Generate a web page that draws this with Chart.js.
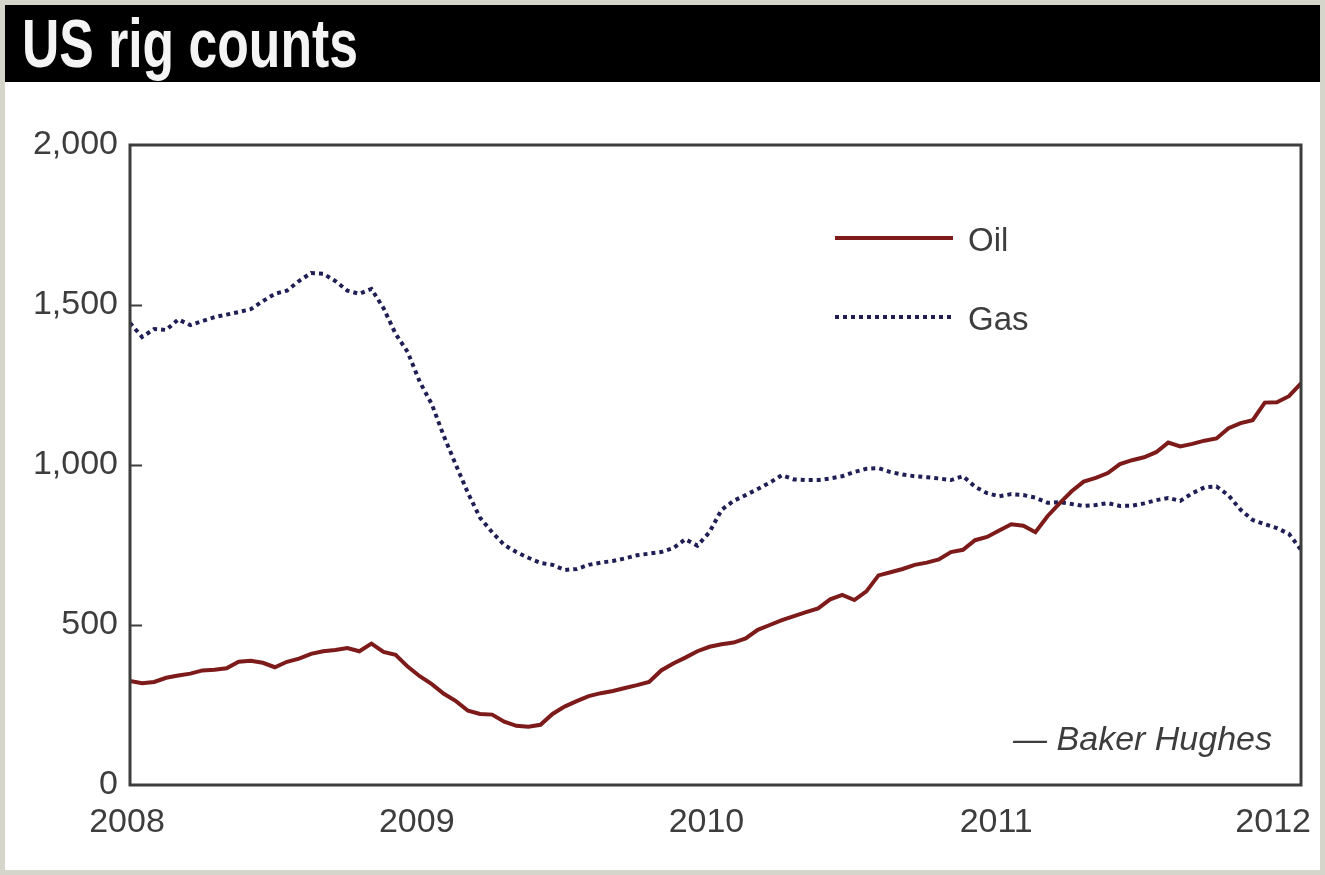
<!DOCTYPE html>
<html>
<head>
<meta charset="utf-8">
<title>US rig counts</title>
<script src="https://cdn.jsdelivr.net/npm/chart.js@4.4.1/dist/chart.umd.min.js"></script>
<style>
  html, body { margin: 0; padding: 0; background: #d5d5cc; }
  #frame { position: absolute; left: 5px; top: 5px; width: 1315px; height: 865px; background: #fff; }
  #bar { position: absolute; left: 0; top: 0; width: 1315px; height: 77px; background: #000; overflow: hidden; }
  #title {
    position: absolute; left: 17px; top: 0; white-space: nowrap;
    color: #f4f4f4; font-family: "Liberation Sans Narrow", "Arial Narrow", "Liberation Sans", sans-serif;
    font-weight: bold; font-size: 68px; line-height: 77px;
    transform: scaleX(0.76); transform-origin: 0 50%;
  }
  #wrap { position: absolute; left: 0; top: 77px; width: 1315px; height: 788px; }
</style>
</head>
<body>
<div id="frame">
  <div id="bar"><div id="title">US rig counts</div></div>
  <div id="wrap"><canvas id="rigChart"></canvas></div>
</div>
<script>
// half-monthly readings, Jan 2008 - Jan 2012
const dates = [
  '2008-01-01','2008-01-16','2008-02-01','2008-02-16','2008-03-01','2008-03-16','2008-04-01','2008-04-16',
  '2008-05-01','2008-05-16','2008-06-01','2008-06-16','2008-07-01','2008-07-16','2008-08-01','2008-08-16',
  '2008-09-01','2008-09-16','2008-10-01','2008-10-16','2008-11-01','2008-11-16','2008-12-01','2008-12-16',
  '2009-01-01','2009-01-16','2009-02-01','2009-02-16','2009-03-01','2009-03-16','2009-04-01','2009-04-16',
  '2009-05-01','2009-05-16','2009-06-01','2009-06-16','2009-07-01','2009-07-16','2009-08-01','2009-08-16',
  '2009-09-01','2009-09-16','2009-10-01','2009-10-16','2009-11-01','2009-11-16','2009-12-01','2009-12-16',
  '2010-01-01','2010-01-16','2010-02-01','2010-02-16','2010-03-01','2010-03-16','2010-04-01','2010-04-16',
  '2010-05-01','2010-05-16','2010-06-01','2010-06-16','2010-07-01','2010-07-16','2010-08-01','2010-08-16',
  '2010-09-01','2010-09-16','2010-10-01','2010-10-16','2010-11-01','2010-11-16','2010-12-01','2010-12-16',
  '2011-01-01','2011-01-16','2011-02-01','2011-02-16','2011-03-01','2011-03-16','2011-04-01','2011-04-16',
  '2011-05-01','2011-05-16','2011-06-01','2011-06-16','2011-07-01','2011-07-16','2011-08-01','2011-08-16',
  '2011-09-01','2011-09-16','2011-10-01','2011-10-16','2011-11-01','2011-11-16','2011-12-01','2011-12-16',
  '2012-01-01','2012-01-16'
];

const oilRigs = [
  325,318,322,335,342,348,358,360,365,385,
  388,382,368,385,395,410,418,422,428,418,
  442,416,407,370,340,315,285,262,232,222,
  220,198,185,182,188,222,245,262,278,287,
  294,303,312,322,358,380,398,418,432,440,
  445,458,485,500,515,528,540,552,580,594,
  578,605,655,665,675,688,695,705,728,735,
  765,775,795,815,810,790,840,880,918,948,
  960,975,1003,1015,1024,1040,1070,1058,1066,1076,
  1083,1115,1131,1140,1195,1196,1215,1255
];

const gasRigs = [
  1444,1400,1425,1422,1455,1437,1450,1462,1470,1478,
  1487,1512,1535,1545,1575,1600,1598,1575,1545,1535,
  1550,1490,1410,1353,1260,1190,1090,1000,912,835,
  790,750,728,710,694,688,672,675,688,695,
  700,708,718,723,728,740,768,748,790,860,
  888,906,925,945,968,955,953,953,958,965,
  978,988,990,978,970,965,962,958,953,965,
  932,912,902,909,906,898,882,884,878,872,
  875,881,872,873,880,890,897,888,912,930,
  933,905,860,828,815,803,785,735
];

const yearTicks = [2008, 2009, 2010, 2011, 2012];
const yTicks = [0, 500, 1000, 1500, 2000];
const seriesNames = ['Oil', 'Gas'];
const sourceNote = '\u2014 Baker Hughes';

const OIL_COLOR = '#7d1a1a';
const GAS_COLOR = '#1f1f55';
const INK = '#3d3d3d';
const FONT = '"Liberation Sans", Arial, sans-serif';

function toYear(d) {
  const [y, m, day] = d.split('-').map(Number);
  return y + (m - 1) / 12 + (day - 1) / 360;
}

const oilPoints = dates.map((d, i) => ({ x: toYear(d), y: oilRigs[i] }));
const gasPoints = dates.map((d, i) => ({ x: toYear(d), y: gasRigs[i] }));

// box, inner ticks, year labels, key and source line
const decorations = {
  id: 'decorations',
  afterDraw(chart) {
    const { ctx, chartArea: a, scales: { x, y } } = chart;
    ctx.save();

    ctx.strokeStyle = INK;
    ctx.lineWidth = 3;
    ctx.strokeRect(a.left, a.top, a.right - a.left, a.bottom - a.top);

    ctx.lineWidth = 2;
    yTicks.slice(1, -1).forEach(v => {
      const py = Math.round(y.getPixelForValue(v)) + 0.5;
      ctx.beginPath();
      ctx.moveTo(a.left, py);
      ctx.lineTo(a.left + 12, py);
      ctx.stroke();
    });

    ctx.fillStyle = INK;
    ctx.font = '34px ' + FONT;
    ctx.textBaseline = 'alphabetic';
    ctx.textAlign = 'center';
    yearTicks.forEach(yr => {
      const label = String(yr);
      const w = ctx.measureText(label).width;
      let px = x.getPixelForValue(yr) - 3;
      if (px + w / 2 > a.right + 10) px = a.right + 10 - w / 2;
      ctx.fillText(label, px, a.bottom + 47);
    });

    // key
    const keyX = a.left + 705;
    const rows = [a.top + 93, a.top + 172];
    chart.data.datasets.forEach((ds, i) => {
      ctx.strokeStyle = ds.borderColor;
      ctx.lineWidth = ds.borderWidth;
      ctx.setLineDash(ds.borderDash || []);
      ctx.lineCap = 'butt';
      ctx.beginPath();
      ctx.moveTo(keyX, rows[i]);
      ctx.lineTo(keyX + 118, rows[i]);
      ctx.stroke();
      ctx.setLineDash([]);
      ctx.fillStyle = INK;
      ctx.font = '33px ' + FONT;
      ctx.textAlign = 'left';
      ctx.fillText(ds.label, keyX + 133, rows[i] + 13);
    });

    ctx.font = 'italic 34px ' + FONT;
    ctx.textAlign = 'right';
    ctx.fillText(sourceNote, a.right - 29, a.bottom - 35);

    ctx.restore();
  }
};

new Chart(document.getElementById('rigChart'), {
  type: 'line',
  data: {
    datasets: [
      {
        label: seriesNames[0],
        data: oilPoints,
        borderColor: OIL_COLOR,
        borderWidth: 4,
        pointRadius: 0,
        tension: 0
      },
      {
        label: seriesNames[1],
        data: gasPoints,
        borderColor: GAS_COLOR,
        borderWidth: 4,
        borderDash: [4, 4],
        borderCapStyle: 'butt',
        pointRadius: 0,
        tension: 0
      }
    ]
  },
  options: {
    responsive: true,
    maintainAspectRatio: false,
    animation: false,
    layout: { padding: { top: 63, right: 19, left: 0, bottom: 0 } },
    plugins: {
      legend: { display: false },
      tooltip: { enabled: false }
    },
    scales: {
      x: {
        type: 'linear',
        min: 2008,
        max: toYear(dates[dates.length - 1]),
        grid: { display: false },
        border: { display: false },
        ticks: { display: false },
        afterFit(scale) { scale.height = 85; }
      },
      y: {
        min: 0,
        max: 2000,
        grid: { display: false, drawTicks: false },
        border: { display: false },
        ticks: {
          stepSize: 500,
          padding: 12,
          color: INK,
          font: { family: FONT, size: 34 },
          callback: v => v.toLocaleString('en-US')
        },
        afterFit(scale) { scale.width = 125; }
      }
    }
  },
  plugins: [decorations]
});
</script>
</body>
</html>
